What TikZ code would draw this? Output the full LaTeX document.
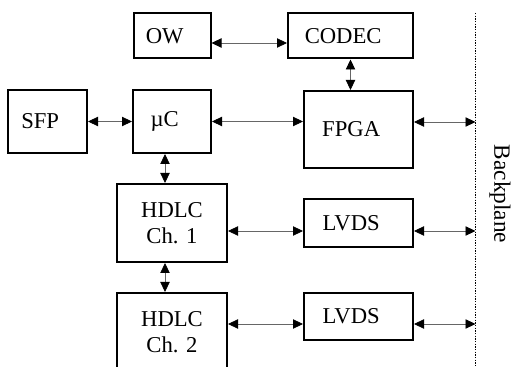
\documentclass[tikz,border=0pt]{standalone}
\usepackage{fontspec}
\setmainfont{Liberation Serif}
\usetikzlibrary{arrows.meta,calc}

\tikzset{
  blk/.style={draw, line width=1.5pt, inner sep=0pt, font=\fontsize{17}{19.5}\selectfont},
  lblk/.style={blk, execute at end node={\hspace*{11pt}}},
  biarrow/.style={{Triangle[length=7.5pt,width=7pt,color=black]}-{Triangle[length=7.5pt,width=7pt,color=black]}, line width=0.6pt, draw=black!60},
}

\begin{document}
\begin{tikzpicture}[x=0.75pt,y=0.75pt,yscale=-1,xscale=1]
        \clip (0,0) rectangle (511,367);

        %Shape: Rectangle [id:ow]
        \node [lblk, minimum width=57.75pt, minimum height=33.75pt] (ow) at (172,36) {OW};
        %Shape: Rectangle [id:codec]
        \node [lblk, minimum width=93.75pt, minimum height=33.75pt] (codec) at (350.5,36) {CODEC};
        %Shape: Rectangle [id:sfp]
        \node [lblk, minimum width=59.25pt, minimum height=47.25pt] (sfp) at (47.5,121.5) {SFP};
        %Shape: Rectangle [id:muc]
        \node [lblk, minimum width=58.5pt, minimum height=47.25pt] (muc) at (172,121.5) {µC};
        %Shape: Rectangle [id:fpga]
        \node [lblk, minimum width=81.75pt, minimum height=57.75pt] (fpga) at (358.5,129.5) {FPGA};
        %Shape: Rectangle [id:hdlca]
        \node [blk, align=center, minimum width=82.5pt, minimum height=58.5pt] (hdlca) at (172,223) {HDLC\\Ch. 1};
        %Shape: Rectangle [id:hdlcb]
        \node [blk, align=center, minimum width=82.5pt, minimum height=58.5pt] (hdlcb) at (172,332) {HDLC\\Ch. 2};
        %Shape: Rectangle [id:lvdsa]
        \node [lblk, minimum width=81.75pt, minimum height=36pt] (lvdsa) at (358.5,223) {LVDS};
        %Shape: Rectangle [id:lvdsb]
        \node [lblk, minimum width=81.75pt, minimum height=35.25pt] (lvdsb) at (358.5,316.5) {LVDS};

        %Straight Lines [id:backplane]
        \coordinate (bptop) at (475.5,13);
        \coordinate (bpbot) at (475.5,367);
        \draw [densely dotted, line width=1pt] (bptop) -- (bpbot);

        % Text Node
        \node [rotate=-90, inner sep=0pt, font=\fontsize{17.5}{19.5}\selectfont] (bplabel) at (500,194) {Backplane};

        %Straight Lines
        \draw [biarrow] ($(ow.east)+(0,7)$) -- ($(codec.west)+(0,7)$);
        \draw [biarrow] (sfp.east) -- (muc.west);
        \draw [biarrow] (muc.east) -- (muc.east -| fpga.west);
        \draw [biarrow] (codec.south) -- (codec.south |- fpga.north);
        \draw [biarrow] ($(muc.south)+(-7,0)$) coordinate (mucs) -- (mucs |- hdlca.north);
        \draw [biarrow] ($(hdlca.south)+(-7,0)$) coordinate (hdlcas) -- (hdlcas |- hdlcb.north);
        \draw [biarrow] ($(hdlca.east)+(0,8)$) coordinate (hdlcae) -- (hdlcae -| lvdsa.west);
        \draw [biarrow] ($(hdlcb.east)+(0,-8)$) coordinate (hdlcbe) -- (hdlcbe -| lvdsb.west);
        \draw [biarrow] ($(fpga.east)+(0,-7.5)$) coordinate (fpgae) -- (fpgae -| bptop);
        \draw [biarrow] ($(lvdsa.east)+(0,8)$) coordinate (lvdsae) -- (lvdsae -| bptop);
        \draw [biarrow] ($(lvdsb.east)+(0,7.5)$) coordinate (lvdsbe) -- (lvdsbe -| bptop);

\end{tikzpicture}
\end{document}
